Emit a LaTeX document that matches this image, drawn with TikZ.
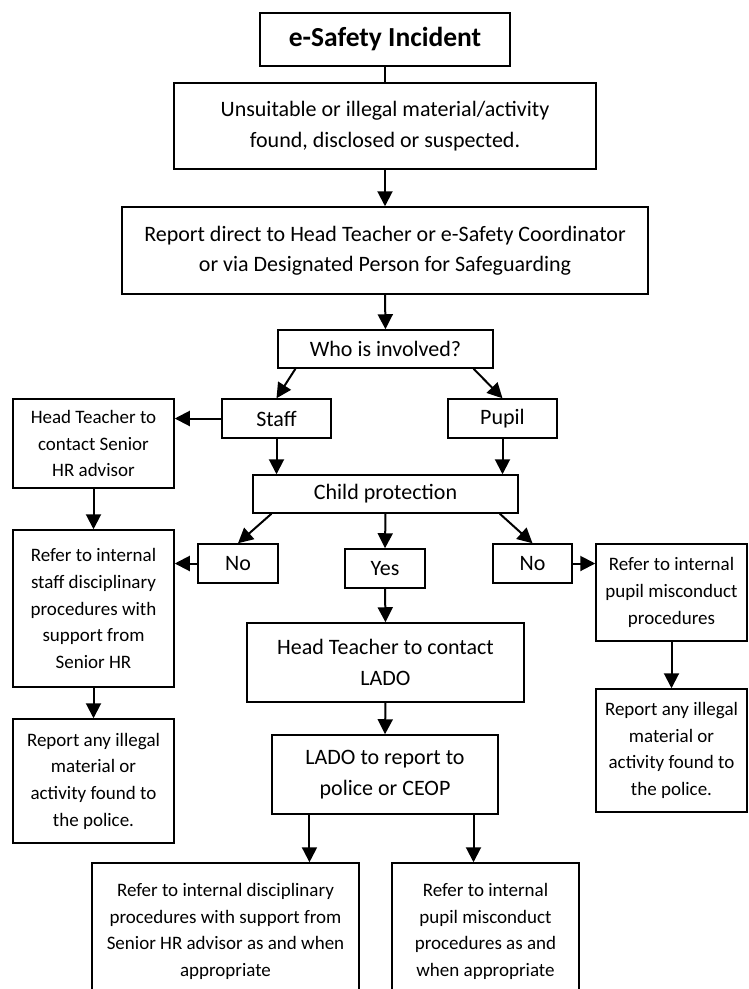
\documentclass[tikz,border=0pt]{standalone}
\usepackage{fontspec}
\setmainfont{Carlito}
\usetikzlibrary{arrows.meta,calc}
\tikzset{
  box/.style={draw=black,line width=1.5pt,inner sep=0pt,align=center,font=\fontsize{22}{30.5}\selectfont},
  sbox/.style={box,font=\fontsize{19}{26.7}\selectfont},
  arr/.style={line width=2pt,-{Triangle[length=15pt,width=15pt]}},
  plain/.style={line width=1.5pt}
}
\begin{document}
\begin{tikzpicture}[x=1pt,y=-1pt]
\useasboundingbox (0,0) rectangle (749,989);
\clip (0,0) rectangle (749,989);
\node[box,minimum width=250pt,minimum height=53pt,font=\fontsize{27.5}{30}\selectfont\bfseries] (title) at (385,39.5) {e-Safety Incident};
\node[box,minimum width=422pt,minimum height=86pt] (found) at (385,126) {Unsuitable or illegal material/activity\\found, disclosed or suspected.};
\node[box,minimum width=526pt,minimum height=87pt] (report) at (385,250.5) {Report direct to Head Teacher or e-Safety Coordinator\\or via Designated Person for Safeguarding};
\node[box,minimum width=215pt,minimum height=38pt] (who) at (385.5,349) {Who is involved?};
\node[box,minimum width=109pt,minimum height=39pt] (staff) at (276.5,418.5) {Staff};
\node[box,minimum width=109pt,minimum height=39pt] (pupil) at (502.5,418.5) {Pupil};
\node[sbox,minimum width=161pt,minimum height=89pt] (htsr) at (93.5,443.5) {Head Teacher to\\contact Senior\\HR advisor};
\node[box,minimum width=265pt,minimum height=38pt] (cp) at (385.5,494) {Child protection};
\node[box,minimum width=80pt,minimum height=39pt] (noL) at (238,563.5) {No};
\node[box,minimum width=80pt,minimum height=39pt] (yes) at (385,568.5) {Yes};
\node[box,minimum width=79pt,minimum height=39pt] (noR) at (532.5,563.5) {No};
\node[sbox,minimum width=161pt,minimum height=157pt] (refstaff) at (93.5,608.5) {Refer to internal\\staff disciplinary\\procedures with\\support from\\Senior HR};
\node[sbox,minimum width=151pt,minimum height=97pt] (refpupil) at (671.5,592.5) {Refer to internal\\pupil misconduct\\procedures};
\node[box,minimum width=277pt,minimum height=79pt] (htlado) at (385.5,662.5) {Head Teacher to contact\\LADO};
\node[sbox,minimum width=161pt,minimum height=124pt] (repL) at (93.5,781) {Report any illegal\\material or\\activity found to\\the police.};
\node[sbox,minimum width=151pt,minimum height=123pt] (repR) at (671.5,750.5) {Report any illegal\\material or\\activity found to\\the police.};
\node[box,minimum width=226pt,minimum height=79pt] (lado) at (385,774.5) {LADO to report to\\police or CEOP};
\node[sbox,minimum width=267pt,minimum height=137pt] (botL) at (225.5,931.5) {Refer to internal disciplinary\\procedures with support from\\Senior HR advisor as and when\\appropriate};
\node[sbox,minimum width=187pt,minimum height=137pt] (botR) at (485.5,931.5) {Refer to internal\\pupil misconduct\\procedures as and\\when appropriate};
% connectors
\draw[plain] (title.south) -- (found.north);
\draw[arr] (found.south) -- (report.north);
\draw[arr] (report.south) -- (who.north);
\draw[arr] ($(who.south west)!0.084!(who.south east)$) -- (staff.north);
\draw[arr] ($(who.south west)!0.907!(who.south east)$) -- (pupil.north);
\draw[arr] (staff.west) -- (staff.west -| htsr.east);
\draw[arr] (staff.south) -- (staff.south |- cp.north);
\draw[arr] (pupil.south) -- (pupil.south |- cp.north);
\draw[arr] ($(cp.south west)!0.072!(cp.south east)$) -- (noL.north);
\draw[arr] (cp.south) -- (yes.north);
\draw[arr] ($(cp.south west)!0.929!(cp.south east)$) -- (noR.north);
\draw[arr] (noL.west) -- (noL.west -| refstaff.east);
\draw[arr] (noR.east) -- (noR.east -| refpupil.west);
\draw[arr] (htsr.south) -- (refstaff.north);
\draw[arr] (refstaff.south) -- (repL.north);
\draw[arr] (refpupil.south) -- (repR.north);
\draw[arr] (yes.south) -- (htlado.north);
\draw[arr] (htlado.south) -- (lado.north);
\coordinate (l1) at ($(lado.south west)!0.168!(lado.south east)$);
\coordinate (l2) at ($(lado.south west)!0.889!(lado.south east)$);
\draw[arr] (l1) -- (l1 |- botL.north);
\draw[arr] (l2) -- (l2 |- botR.north);
\end{tikzpicture}
\end{document}
